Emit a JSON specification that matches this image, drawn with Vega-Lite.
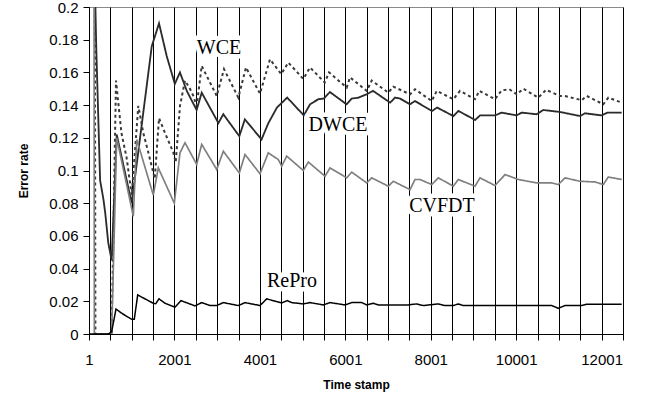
{
  "$schema": "https://vega.github.io/schema/vega-lite/v6.json",
  "width": 534,
  "height": 327,
  "autosize": {"type": "none"},
  "padding": {"left": 89, "top": 7, "right": 28, "bottom": 65},
  "background": "white",
  "config": {
    "view": {"stroke": "#8a8a8a", "strokeWidth": 1},
    "font": "Liberation Sans",
    "axis": {
      "tickSize": 6, "tickColor": "#000", "domainColor": "#000",
      "labelFontSize": 15, "labelColor": "#000",
      "labelOverlap": false, "labelFlush": false, "labelBound": false,
      "titleFontSize": 12, "titleFontWeight": "bold", "titleColor": "#000"
    },
    "axisX": {"labelPadding": 12, "titlePadding": 12, "grid": true, "gridColor": "#000", "gridWidth": 1, "gridOpacity": 1},
    "axisY": {"labelPadding": 5, "titlePadding": 18, "grid": false}
  },
  "datasets": {
    "series": [
      {"s":"DWCE","t":1,"v":0.5},{"s":"DWCE","t":111,"v":0.25},{"s":"DWCE","t":171,"v":0.175},{"s":"DWCE","t":261,"v":0.094},{"s":"DWCE","t":341,"v":0.082},{"s":"DWCE","t":381,"v":0.074},{"s":"DWCE","t":451,"v":0.056},{"s":"DWCE","t":531,"v":0.045},{"s":"DWCE","t":650,"v":0.122},{"s":"DWCE","t":1001,"v":0.08},{"s":"DWCE","t":1470,"v":0.176},{"s":"DWCE","t":1640,"v":0.19},{"s":"DWCE","t":1820,"v":0.17},{"s":"DWCE","t":2010,"v":0.153},{"s":"DWCE","t":2130,"v":0.16},{"s":"DWCE","t":2290,"v":0.1487},{"s":"DWCE","t":2520,"v":0.137},{"s":"DWCE","t":2640,"v":0.1476},{"s":"DWCE","t":3030,"v":0.129},{"s":"DWCE","t":3145,"v":0.1344},{"s":"DWCE","t":3520,"v":0.121},{"s":"DWCE","t":3650,"v":0.1313},{"s":"DWCE","t":4040,"v":0.119},{"s":"DWCE","t":4200,"v":0.129},{"s":"DWCE","t":4400,"v":0.1385},{"s":"DWCE","t":4640,"v":0.1446},{"s":"DWCE","t":5030,"v":0.1337},{"s":"DWCE","t":5175,"v":0.1405},{"s":"DWCE","t":5370,"v":0.1436},{"s":"DWCE","t":5500,"v":0.144},{"s":"DWCE","t":5640,"v":0.148},{"s":"DWCE","t":6030,"v":0.1405},{"s":"DWCE","t":6150,"v":0.144},{"s":"DWCE","t":6300,"v":0.1445},{"s":"DWCE","t":6500,"v":0.1466},{"s":"DWCE","t":6650,"v":0.1487},{"s":"DWCE","t":7050,"v":0.1415},{"s":"DWCE","t":7165,"v":0.1446},{"s":"DWCE","t":7280,"v":0.144},{"s":"DWCE","t":7515,"v":0.1405},{"s":"DWCE","t":7630,"v":0.1425},{"s":"DWCE","t":8030,"v":0.1364},{"s":"DWCE","t":8150,"v":0.1385},{"s":"DWCE","t":8530,"v":0.1333},{"s":"DWCE","t":8650,"v":0.1364},{"s":"DWCE","t":9040,"v":0.1309},{"s":"DWCE","t":9155,"v":0.1337},{"s":"DWCE","t":9505,"v":0.1337},{"s":"DWCE","t":9660,"v":0.1354},{"s":"DWCE","t":10010,"v":0.1337},{"s":"DWCE","t":10130,"v":0.1354},{"s":"DWCE","t":10480,"v":0.1344},{"s":"DWCE","t":10635,"v":0.137},{"s":"DWCE","t":11025,"v":0.1358},{"s":"DWCE","t":11495,"v":0.1333},{"s":"DWCE","t":11610,"v":0.135},{"s":"DWCE","t":12000,"v":0.1337},{"s":"DWCE","t":12135,"v":0.1354},{"s":"DWCE","t":12470,"v":0.1354},

      {"s":"WCE","t":1,"v":0.9},{"s":"WCE","t":101,"v":0.8},{"s":"WCE","t":151,"v":0},{"s":"WCE","t":531,"v":0},{"s":"WCE","t":633,"v":0.155},{"s":"WCE","t":760,"v":0.123},{"s":"WCE","t":880,"v":0.108},{"s":"WCE","t":1001,"v":0.085},{"s":"WCE","t":1155,"v":0.1395},{"s":"WCE","t":1272,"v":0.123},{"s":"WCE","t":1390,"v":0.111},{"s":"WCE","t":1540,"v":0.095},{"s":"WCE","t":1640,"v":0.132},{"s":"WCE","t":1780,"v":0.123},{"s":"WCE","t":1975,"v":0.111},{"s":"WCE","t":2031,"v":0.105},{"s":"WCE","t":2131,"v":0.1395},{"s":"WCE","t":2248,"v":0.155},{"s":"WCE","t":2365,"v":0.15},{"s":"WCE","t":2443,"v":0.1456},{"s":"WCE","t":2522,"v":0.1395},{"s":"WCE","t":2639,"v":0.164},{"s":"WCE","t":2991,"v":0.1456},{"s":"WCE","t":3161,"v":0.162},{"s":"WCE","t":3496,"v":0.1446},{"s":"WCE","t":3676,"v":0.163},{"s":"WCE","t":4004,"v":0.147},{"s":"WCE","t":4238,"v":0.168},{"s":"WCE","t":4500,"v":0.159},{"s":"WCE","t":4667,"v":0.166},{"s":"WCE","t":5018,"v":0.156},{"s":"WCE","t":5175,"v":0.163},{"s":"WCE","t":5520,"v":0.1538},{"s":"WCE","t":5620,"v":0.16},{"s":"WCE","t":6034,"v":0.1507},{"s":"WCE","t":6111,"v":0.157},{"s":"WCE","t":6502,"v":0.1487},{"s":"WCE","t":6619,"v":0.155},{"s":"WCE","t":7008,"v":0.1476},{"s":"WCE","t":7125,"v":0.1513},{"s":"WCE","t":7516,"v":0.1466},{"s":"WCE","t":7633,"v":0.1497},{"s":"WCE","t":8024,"v":0.1425},{"s":"WCE","t":8141,"v":0.1487},{"s":"WCE","t":8529,"v":0.1436},{"s":"WCE","t":8686,"v":0.1487},{"s":"WCE","t":9037,"v":0.1436},{"s":"WCE","t":9138,"v":0.1487},{"s":"WCE","t":9505,"v":0.1436},{"s":"WCE","t":9660,"v":0.149},{"s":"WCE","t":9840,"v":0.1497},{"s":"WCE","t":10013,"v":0.1466},{"s":"WCE","t":10168,"v":0.15},{"s":"WCE","t":10519,"v":0.1446},{"s":"WCE","t":10699,"v":0.1493},{"s":"WCE","t":11026,"v":0.1456},{"s":"WCE","t":11143,"v":0.1456},{"s":"WCE","t":11534,"v":0.143},{"s":"WCE","t":11651,"v":0.1456},{"s":"WCE","t":12040,"v":0.1405},{"s":"WCE","t":12157,"v":0.1446},{"s":"WCE","t":12471,"v":0.1415},

      {"s":"CVFDT","t":1,"v":0.9},{"s":"CVFDT","t":101,"v":0.75},{"s":"CVFDT","t":126,"v":0},{"s":"CVFDT","t":531,"v":0},{"s":"CVFDT","t":650,"v":0.12},{"s":"CVFDT","t":1038,"v":0.072},{"s":"CVFDT","t":1118,"v":0.119},{"s":"CVFDT","t":1506,"v":0.085},{"s":"CVFDT","t":1623,"v":0.1016},{"s":"CVFDT","t":1998,"v":0.08},{"s":"CVFDT","t":2131,"v":0.1108},{"s":"CVFDT","t":2248,"v":0.117},{"s":"CVFDT","t":2522,"v":0.1037},{"s":"CVFDT","t":2639,"v":0.116},{"s":"CVFDT","t":2991,"v":0.1006},{"s":"CVFDT","t":3145,"v":0.1118},{"s":"CVFDT","t":3520,"v":0.0985},{"s":"CVFDT","t":3653,"v":0.1098},{"s":"CVFDT","t":4004,"v":0.098},{"s":"CVFDT","t":4198,"v":0.1108},{"s":"CVFDT","t":4432,"v":0.1067},{"s":"CVFDT","t":4512,"v":0.1026},{"s":"CVFDT","t":4629,"v":0.1088},{"s":"CVFDT","t":5018,"v":0.1},{"s":"CVFDT","t":5135,"v":0.1052},{"s":"CVFDT","t":5526,"v":0.0965},{"s":"CVFDT","t":5643,"v":0.1016},{"s":"CVFDT","t":6034,"v":0.0955},{"s":"CVFDT","t":6151,"v":0.099},{"s":"CVFDT","t":6502,"v":0.0924},{"s":"CVFDT","t":6619,"v":0.0955},{"s":"CVFDT","t":7008,"v":0.0904},{"s":"CVFDT","t":7125,"v":0.0934},{"s":"CVFDT","t":7516,"v":0.0883},{"s":"CVFDT","t":7633,"v":0.0945},{"s":"CVFDT","t":7750,"v":0.0945},{"s":"CVFDT","t":8024,"v":0.0914},{"s":"CVFDT","t":8178,"v":0.0955},{"s":"CVFDT","t":8529,"v":0.0904},{"s":"CVFDT","t":8646,"v":0.0945},{"s":"CVFDT","t":9037,"v":0.0904},{"s":"CVFDT","t":9154,"v":0.0955},{"s":"CVFDT","t":9505,"v":0.0908},{"s":"CVFDT","t":9740,"v":0.0975},{"s":"CVFDT","t":10051,"v":0.0945},{"s":"CVFDT","t":10482,"v":0.0924},{"s":"CVFDT","t":10832,"v":0.0924},{"s":"CVFDT","t":10987,"v":0.0914},{"s":"CVFDT","t":11143,"v":0.0955},{"s":"CVFDT","t":11494,"v":0.0934},{"s":"CVFDT","t":11845,"v":0.093},{"s":"CVFDT","t":12040,"v":0.0914},{"s":"CVFDT","t":12157,"v":0.096},{"s":"CVFDT","t":12471,"v":0.0945},

      {"s":"RePro","t":1,"v":0},{"s":"RePro","t":451,"v":0},{"s":"RePro","t":531,"v":0.0014},{"s":"RePro","t":633,"v":0.0153},{"s":"RePro","t":765,"v":0.0127},{"s":"RePro","t":1001,"v":0.009},{"s":"RePro","t":1061,"v":0.009},{"s":"RePro","t":1141,"v":0.0239},{"s":"RePro","t":1312,"v":0.0215},{"s":"RePro","t":1506,"v":0.0188},{"s":"RePro","t":1562,"v":0.0185},{"s":"RePro","t":1640,"v":0.0215},{"s":"RePro","t":1780,"v":0.0188},{"s":"RePro","t":1975,"v":0.0168},{"s":"RePro","t":2014,"v":0.0164},{"s":"RePro","t":2155,"v":0.0204},{"s":"RePro","t":2482,"v":0.0172},{"s":"RePro","t":2639,"v":0.0192},{"s":"RePro","t":2834,"v":0.0174},{"s":"RePro","t":2991,"v":0.0174},{"s":"RePro","t":3145,"v":0.0192},{"s":"RePro","t":3496,"v":0.0174},{"s":"RePro","t":3653,"v":0.0192},{"s":"RePro","t":4004,"v":0.0174},{"s":"RePro","t":4161,"v":0.0215},{"s":"RePro","t":4395,"v":0.0198},{"s":"RePro","t":4512,"v":0.019},{"s":"RePro","t":4643,"v":0.0204},{"s":"RePro","t":4746,"v":0.0192},{"s":"RePro","t":5018,"v":0.0184},{"s":"RePro","t":5175,"v":0.0192},{"s":"RePro","t":5486,"v":0.0178},{"s":"RePro","t":5643,"v":0.0192},{"s":"RePro","t":5994,"v":0.0178},{"s":"RePro","t":6151,"v":0.0192},{"s":"RePro","t":6385,"v":0.0192},{"s":"RePro","t":6502,"v":0.0178},{"s":"RePro","t":6656,"v":0.0188},{"s":"RePro","t":6773,"v":0.0178},{"s":"RePro","t":7281,"v":0.0178},{"s":"RePro","t":7476,"v":0.0178},{"s":"RePro","t":7672,"v":0.0184},{"s":"RePro","t":7827,"v":0.0174},{"s":"RePro","t":8178,"v":0.0184},{"s":"RePro","t":8335,"v":0.0174},{"s":"RePro","t":8529,"v":0.0174},{"s":"RePro","t":8646,"v":0.0184},{"s":"RePro","t":8763,"v":0.0174},{"s":"RePro","t":10832,"v":0.0174},{"s":"RePro","t":10987,"v":0.0157},{"s":"RePro","t":11143,"v":0.0174},{"s":"RePro","t":11534,"v":0.0174},{"s":"RePro","t":11651,"v":0.0182},{"s":"RePro","t":12471,"v":0.0182}
    ],
    "labels": [
      {"label":"WCE","t":3044,"v":0.175},
      {"label":"DWCE","t":5830,"v":0.1276},
      {"label":"CVFDT","t":8264,"v":0.078},
      {"label":"RePro","t":4753,"v":0.0322}
    ]
  },
  "encoding": {
    "x": {
      "field": "t", "type": "quantitative",
      "scale": {"domain": [1, 12501], "nice": false, "zero": false},
      "axis": {
        "values": [1,501,1001,1501,2001,2501,3001,3501,4001,4501,5001,5501,6001,6501,7001,7501,8001,8501,9001,9501,10001,10501,11001,11501,12001,12501],
        "labelExpr": "(datum.value - 1) % 2000 == 0 ? format(datum.value, 'd') : ''",
        "labelOverlap": false,
        "title": "Time stamp"
      }
    },
    "y": {
      "field": "v", "type": "quantitative",
      "scale": {"domain": [0, 0.2], "nice": false},
      "axis": {
        "values": [0,0.02,0.04,0.06,0.08,0.1,0.12,0.14,0.16,0.18,0.2],
        "labelExpr": "format(datum.value, '~g')",
        "labelOverlap": false,
        "title": "Error rate"
      }
    }
  },
  "layer": [
    {
      "data": {"name": "series"},
      "mark": {"type": "line", "clip": true},
      "encoding": {
        "color": {"field": "s", "type": "nominal", "legend": null,
          "scale": {"domain": ["WCE","DWCE","CVFDT","RePro"], "range": ["#3a3a3a","#2b2b2b","#7f7f7f","#000000"]}},
        "strokeDash": {"field": "s", "type": "nominal", "legend": null,
          "scale": {"domain": ["WCE","DWCE","CVFDT","RePro"], "range": [[3,3],[1,0],[1,0],[1,0]]}},
        "strokeWidth": {"field": "s", "type": "nominal", "legend": null,
          "scale": {"domain": ["WCE","DWCE","CVFDT","RePro"], "range": [2,1.5,2,1.5]}},
        "order": {"field": "t", "type": "quantitative"}
      }
    },
    {
      "data": {"name": "labels"},
      "mark": {"type": "text", "font": "Liberation Serif", "fontSize": 20, "fill": "white", "stroke": "white", "strokeWidth": 9, "strokeJoin": "round", "align": "center", "baseline": "middle"},
      "encoding": {"text": {"field": "label"}}
    },
    {
      "data": {"name": "labels"},
      "mark": {"type": "text", "font": "Liberation Serif", "fontSize": 20, "fill": "black", "align": "center", "baseline": "middle"},
      "encoding": {"text": {"field": "label"}}
    }
  ]
}
